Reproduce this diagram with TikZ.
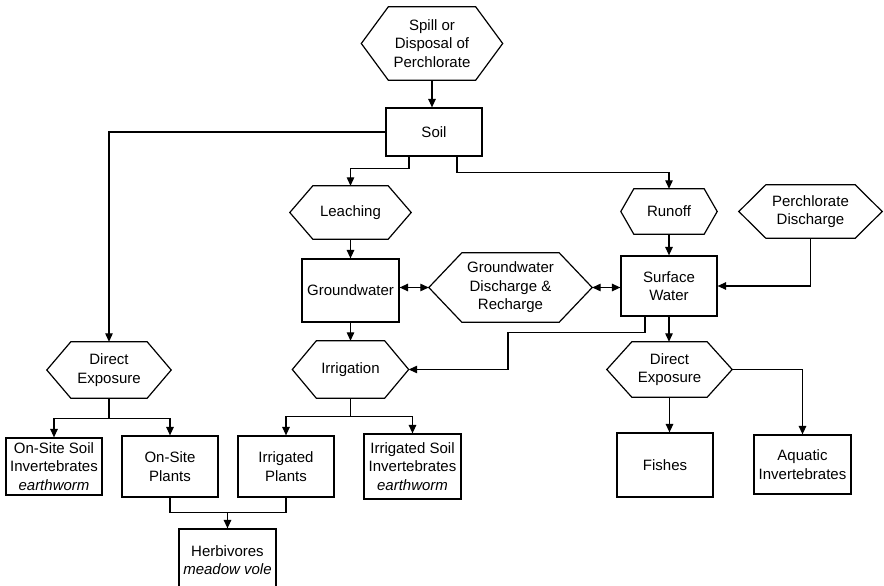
\documentclass[tikz,border=0pt]{standalone}
\usepackage{fontspec}
\setmainfont{Liberation Sans}
\usetikzlibrary{arrows.meta}

\tikzset{
  line/.style={line width=1.2pt},
  arr/.style={line, -{Triangle[length=8.5pt,width=7.5pt]}},
  darr/.style={line, {Triangle[length=8.5pt,width=7.5pt]}-{Triangle[length=8.5pt,width=7.5pt]}},
  lbl/.style={align=center, font=\fontsize{15}{18.5}\selectfont, inner sep=1pt},
  box/.style={lbl, draw, line},
  hexnode/.style={lbl},
}

% hexagon outline around a node: name, horizontal inset of the slanted sides
\newcommand\hexframe[2]{%
  \draw[line] (#1.west) -- ([xshift=#2pt]#1.north west) -- ([xshift=-#2pt]#1.north east)
    -- (#1.east) -- ([xshift=-#2pt]#1.south east) -- ([xshift=#2pt]#1.south west) -- cycle;}

\begin{document}
\begin{tikzpicture}[x=1pt,y=-1pt]
\useasboundingbox (0,0) rectangle (884,586);
\clip (0,0) rectangle (884,586);
\fill[white] (0,0) rectangle (884,586);

% sources and pathways
\node[hexnode, minimum width=141pt, minimum height=73pt] (spill) at (432,43.5) {Spill or\\Disposal of\\Perchlorate};
\node[box, minimum width=96pt, minimum height=48pt] (soil) at (434,132) {Soil};
\node[hexnode, minimum width=121pt, minimum height=53pt] (leach) at (350.5,212.5) {Leaching};
\node[hexnode, minimum width=96pt, minimum height=45pt] (runoff) at (669,211.5) {Runoff};
\node[hexnode, minimum width=143pt, minimum height=53pt] (pdis) at (810.5,211.5) {Perchlorate\\Discharge};
\node[box, minimum width=97pt, minimum height=63pt] (gw) at (350.5,290.5) {Groundwater};
\node[hexnode, minimum width=163pt, minimum height=69pt] (gdr) at (510.5,287.5) {Groundwater\\Discharge \&\\Recharge};
\node[box, minimum width=96pt, minimum height=60pt] (sw) at (669,286) {Surface\\Water};
\node[hexnode, minimum width=116pt, minimum height=57pt] (irr) at (350.5,369.5) {Irrigation};
\node[hexnode, minimum width=124pt, minimum height=56pt] (del) at (109,370) {Direct\\Exposure};
\node[hexnode, minimum width=125pt, minimum height=55pt] (der) at (669.5,369.5) {Direct\\Exposure};

% receptors
\node[box, minimum width=96pt, minimum height=57pt] (osi) at (54,466.5) {On-Site Soil\\Invertebrates\\\textit{earthworm}};
\node[box, minimum width=96pt, minimum height=61pt] (osp) at (170,466.5) {On-Site\\Plants};
\node[box, minimum width=96pt, minimum height=61pt] (ip) at (286,466.5) {Irrigated\\Plants};
\node[box, minimum width=97pt, minimum height=65pt] (isi) at (412.5,466.5) {Irrigated Soil\\Invertebrates\\\textit{earthworm}};
\node[box, minimum width=96pt, minimum height=64pt] (fish) at (665,465) {Fishes};
\node[box, minimum width=97pt, minimum height=59pt] (aqi) at (802.5,464.5) {Aquatic\\Invertebrates};
\node[box, minimum width=97pt, minimum height=62pt] (herb) at (227.5,560) {Herbivores\\\textit{meadow vole}};

% hexagon outlines
\hexframe{spill}{27}
\hexframe{leach}{23}
\hexframe{runoff}{13}
\hexframe{pdis}{27}
\hexframe{gdr}{33}
\hexframe{irr}{24}
\hexframe{del}{24}
\hexframe{der}{25}

% connectors
\draw[arr] (spill.south) -- (spill.south |- soil.north);
\draw[arr] (soil.west) -| (del.north);
\draw[arr] ([xshift=-25pt]soil.south) -- ++(0,12) -| (leach.north);
\draw[arr] ([xshift=23pt]soil.south) -- ++(0,16) -| (runoff.north);
\draw[arr] (leach.south) -- (leach.south |- gw.north);
\draw[arr] (runoff.south) -- (runoff.south |- sw.north);
\draw[darr] (gw.east |- gdr.west) -- (gdr.west);
\draw[darr] (gdr.east) -- (gdr.east -| sw.west);
\draw[arr] (pdis.south) |- (sw.east);
\draw[arr] (gw.south) -- (gw.south |- irr.north);
\draw[arr] (sw.south) -- (sw.south |- der.north);

\path ([xshift=-24pt]sw.south) ++(0,16) coordinate (swturn);
\path (swturn) ++(-137,0) coordinate (swdrop);
\draw[arr] ([xshift=-24pt]sw.south) -- (swturn) -- (swdrop) |- (irr.east);

\draw[arr] (der.south) -- (der.south |- fish.north);
\draw[arr] (der.east) -| (aqi.north);

\path (del.south) ++(0,20) coordinate (dsplit);
\draw[line] (del.south) -- (dsplit);
\draw[arr] (dsplit) -| (osi.north);
\draw[arr] (dsplit) -| (osp.north);

\path (irr.south) ++(0,18) coordinate (isplit);
\draw[line] (irr.south) -- (isplit);
\draw[arr] (isplit) -| (ip.north);
\draw[arr] (isplit) -| (isi.north);

\path (osp.south) ++(0,15) coordinate (hjoin);
\draw[line] (osp.south) -- (hjoin) -| (ip.south);
\draw[arr] (hjoin -| herb.north) -- (herb.north);
\end{tikzpicture}
\end{document}
